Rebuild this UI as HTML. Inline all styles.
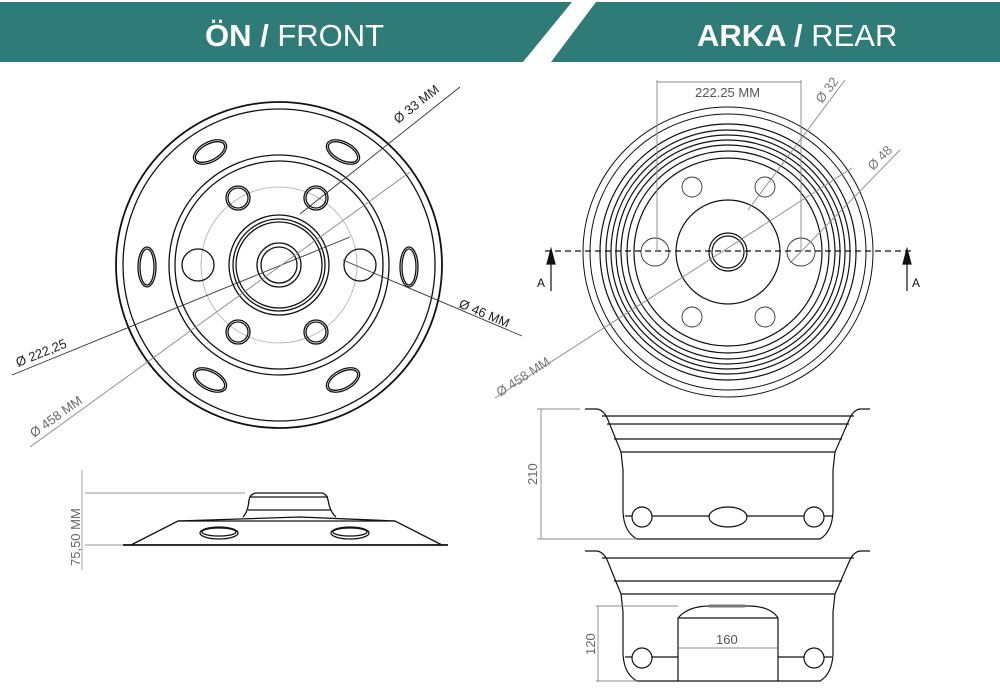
<!DOCTYPE html>
<html><head><meta charset="utf-8"><style>
html,body{margin:0;padding:0;background:#fff;}
svg{display:block}
text{font-family:"Liberation Sans",sans-serif;}
</style></head><body>
<svg width="1000" height="693" viewBox="0 0 1000 693" xmlns="http://www.w3.org/2000/svg">
<rect width="1000" height="693" fill="#fff"/>
<!-- header -->
<polygon points="0,2 572,2 523,62 0,62" fill="#2f7b78"/>
<polygon points="596,2 1000,2 1000,62 551,62" fill="#2f7b78"/>
<text x="205" y="46" font-size="31" fill="#fff"><tspan font-weight="bold">ÖN /</tspan> FRONT</text>
<text x="697" y="46" font-size="31" fill="#fff"><tspan font-weight="bold">ARKA /</tspan> REAR</text>

<!-- FRONT VIEW -->
<g fill="none" stroke="#111" stroke-width="1.3">
<circle cx="279" cy="265" r="163" stroke-width="1.8"/>
<circle cx="279" cy="265" r="156"/>
<circle cx="279" cy="265" r="110"/>
<circle cx="279" cy="265" r="104"/>
<circle cx="279" cy="265" r="78" stroke="#aaa" stroke-width="0.8"/>
<circle cx="279" cy="265" r="50"/>
<circle cx="279" cy="265" r="46"/>
<circle cx="279" cy="265" r="43"/>
<circle cx="279" cy="265" r="22"/>
<circle cx="279" cy="265" r="18"/>
<circle cx="238" cy="198" r="12"/><circle cx="238" cy="198" r="10"/>
<circle cx="316" cy="198" r="12"/><circle cx="316" cy="198" r="10"/>
<circle cx="238" cy="332" r="12"/><circle cx="238" cy="332" r="10"/>
<circle cx="316" cy="332" r="12"/><circle cx="316" cy="332" r="10"/>
<circle cx="198" cy="265" r="16"/>
<circle cx="360" cy="265" r="16"/>
<ellipse cx="210" cy="152" rx="18" ry="10" transform="rotate(-28 210 152)"/><ellipse cx="210" cy="152" rx="16" ry="8" transform="rotate(-28 210 152)"/>
<ellipse cx="343" cy="152" rx="18" ry="10" transform="rotate(28 343 152)"/><ellipse cx="343" cy="152" rx="16" ry="8" transform="rotate(28 343 152)"/>
<ellipse cx="210" cy="380" rx="18" ry="10" transform="rotate(28 210 380)"/><ellipse cx="210" cy="380" rx="16" ry="8" transform="rotate(28 210 380)"/>
<ellipse cx="343" cy="380" rx="18" ry="10" transform="rotate(-28 343 380)"/><ellipse cx="343" cy="380" rx="16" ry="8" transform="rotate(-28 343 380)"/>
<ellipse cx="147" cy="267" rx="9" ry="20"/><ellipse cx="147" cy="267" rx="7" ry="18"/>
<ellipse cx="409" cy="267" rx="9" ry="20"/><ellipse cx="409" cy="267" rx="7" ry="18"/>
</g>
<g stroke="#333" stroke-width="0.9" fill="none">
<line x1="460" y1="87" x2="300" y2="214"/>
<line x1="12" y1="375" x2="350" y2="237"/>
<line x1="343" y1="260" x2="522" y2="336"/>
</g>
<line x1="30" y1="447" x2="410" y2="172" stroke="#888" stroke-width="0.9"/>
<text x="0" y="0" font-size="13" fill="#222" transform="translate(398,124) rotate(-38)">Ø 33 MM</text>
<text x="0" y="0" font-size="13" fill="#222" transform="translate(18,367) rotate(-22)">Ø 222,25</text>
<text x="0" y="0" font-size="13" fill="#666" transform="translate(34,438) rotate(-36)">Ø 458 MM</text>
<text x="0" y="0" font-size="13" fill="#222" transform="translate(458,307) rotate(23)">Ø 46 MM</text>

<!-- front side view -->
<g fill="none" stroke="#111" stroke-width="1.3">
<line x1="123" y1="545" x2="448" y2="545" stroke-width="1.8"/>
<path d="M131,545 L178,521 L300,517 L395,521 L442,545"/>
<path d="M243,517 Q248,512 249,500 Q250,494 256,493 L322,493 Q327,494 328,500 Q330,512 336,517"/>
<line x1="250" y1="497" x2="328" y2="497"/>
<line x1="248" y1="510" x2="331" y2="510"/>
<line x1="178" y1="521" x2="395" y2="521"/>
<ellipse cx="219" cy="533" rx="19" ry="6"/><ellipse cx="219" cy="532" rx="17" ry="4"/>
<ellipse cx="350" cy="533" rx="19" ry="6"/><ellipse cx="350" cy="532" rx="17" ry="4"/>
</g>
<g stroke="#999" stroke-width="0.9">
<line x1="85" y1="493" x2="245" y2="493"/>
<line x1="85" y1="545" x2="123" y2="545"/>
<line x1="82" y1="470" x2="82" y2="570"/>
</g>
<text x="0" y="0" font-size="13" fill="#666" transform="translate(80,566) rotate(-90)">75,50 MM</text>

<!-- REAR VIEW -->
<g fill="none" stroke="#111" stroke-width="1.2">
<circle cx="728" cy="252" r="145" stroke-width="1"/>
<circle cx="728" cy="252" r="138" stroke-width="1"/>
<circle cx="728" cy="252" r="128"/>
<circle cx="728" cy="252" r="122"/>
<circle cx="728" cy="252" r="117"/>
<circle cx="728" cy="252" r="112"/>
<circle cx="728" cy="252" r="107"/>
<circle cx="728" cy="252" r="101"/>
<circle cx="728" cy="252" r="94"/>
<circle cx="728" cy="252" r="52"/>
<circle cx="728" cy="252" r="19"/>
<circle cx="728" cy="252" r="16"/>
</g>
<g fill="none" stroke="#333" stroke-width="0.9">
<circle cx="692" cy="187" r="10"/><circle cx="765" cy="187" r="10"/>
<circle cx="655" cy="252" r="14"/><circle cx="801" cy="252" r="14"/>
<circle cx="692" cy="317" r="10"/><circle cx="765" cy="317" r="10"/>
</g>
<line x1="545" y1="251" x2="912" y2="251" stroke="#111" stroke-width="1.2" stroke-dasharray="6,4"/>
<g stroke="#111" stroke-width="1.2" fill="#111">
<line x1="551" y1="252" x2="551" y2="291"/><polygon points="547,264 555,264 551,249"/>
<line x1="907" y1="252" x2="907" y2="291"/><polygon points="903,264 911,264 907,249"/>
</g>
<text x="537" y="287" font-size="12" fill="#111">A</text>
<text x="912" y="287" font-size="12" fill="#111">A</text>
<g stroke="#888" stroke-width="0.9" fill="none">
<line x1="657" y1="80" x2="657" y2="252"/>
<line x1="801" y1="80" x2="801" y2="252"/>
<line x1="657" y1="82" x2="801" y2="82"/>
<line x1="845" y1="80" x2="748" y2="210"/>
<line x1="900" y1="150" x2="790" y2="263"/>
<line x1="495" y1="398" x2="852" y2="168"/>
</g>
<text x="695" y="97" font-size="13" fill="#555">222.25 MM</text>
<text x="0" y="0" font-size="13" fill="#777" transform="translate(822,104) rotate(-53)">Ø 32</text>
<text x="0" y="0" font-size="13" fill="#777" transform="translate(873,171) rotate(-45)">Ø 48</text>
<text x="0" y="0" font-size="13" fill="#777" transform="translate(500,397) rotate(-33)">Ø 458 MM</text>

<!-- rear side view 1 -->
<g fill="none" stroke="#111" stroke-width="1.2">
<path d="M585,409 L597,409 Q604,410 608,420 L621,452 L623,470 L623,512 Q624,532 637,539 L820,539 Q832,532 833,512 L833,470 L835,452 L849,420 Q853,410 860,409 L870,409"/>
<line x1="602" y1="416" x2="854" y2="416"/>
<line x1="607" y1="424" x2="849" y2="424"/>
<line x1="614" y1="439" x2="842" y2="439"/>
<line x1="621" y1="452" x2="835" y2="452"/>
<line x1="625" y1="516" x2="832" y2="516"/>
<ellipse cx="642" cy="517" rx="10" ry="10" fill="#fff"/>
<ellipse cx="814" cy="517" rx="10" ry="10" fill="#fff"/>
<ellipse cx="728" cy="517" rx="19" ry="10" fill="#fff"/>
</g>
<g stroke="#888" stroke-width="0.9">
<line x1="537" y1="409" x2="580" y2="409"/>
<line x1="537" y1="539" x2="637" y2="539"/>
<line x1="541" y1="409" x2="541" y2="539"/>
</g>
<text x="0" y="0" font-size="13" fill="#666" transform="translate(537,485) rotate(-90)">210</text>

<!-- rear side view 2 -->
<g fill="none" stroke="#111" stroke-width="1.2">
<path d="M585,551 L597,551 Q604,552 608,562 L621,594 L623,612 L623,654 Q624,674 637,681 L820,681 Q832,674 833,654 L833,612 L835,594 L849,562 Q853,552 860,551 L870,551"/>
<line x1="602" y1="558" x2="854" y2="558"/>
<line x1="614" y1="581" x2="842" y2="581"/>
<line x1="621" y1="594" x2="835" y2="594"/>
<path d="M678,681 L678,618 Q688,606 710,606 L748,606 Q770,606 778,618 L778,681"/>
<line x1="678" y1="618" x2="778" y2="618"/>
<line x1="709" y1="606" x2="745" y2="606" stroke="#777" stroke-width="3"/>
<line x1="625" y1="657" x2="678" y2="657"/>
<line x1="778" y1="657" x2="832" y2="657"/>
<circle cx="642" cy="658" r="10" fill="#fff"/>
<circle cx="814" cy="658" r="10" fill="#fff"/>
</g>
<g stroke="#888" stroke-width="0.9">
<line x1="596" y1="606" x2="678" y2="606"/>
<line x1="596" y1="681" x2="637" y2="681"/>
<line x1="598" y1="606" x2="598" y2="681"/>
<line x1="679" y1="648" x2="777" y2="648"/>
</g>
<text x="716" y="644" font-size="13" fill="#555">160</text>
<text x="0" y="0" font-size="13" fill="#666" transform="translate(595,655) rotate(-90)">120</text>
</svg>
</body></html>
